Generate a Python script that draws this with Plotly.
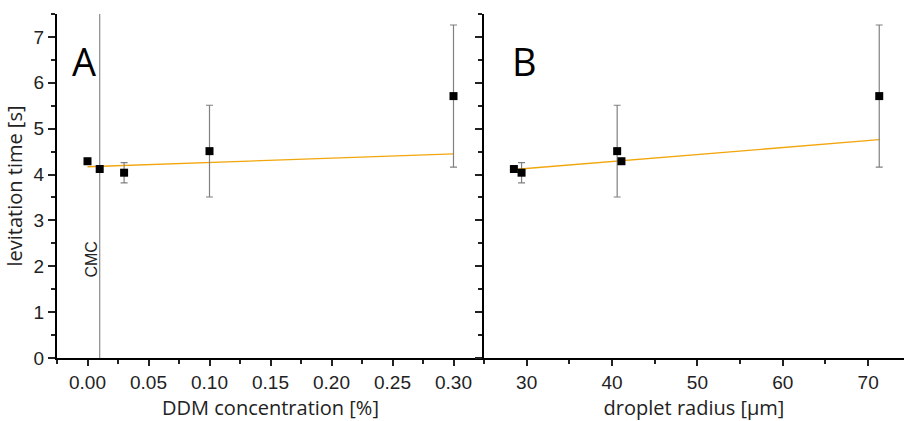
import plotly.graph_objects as go

# ---- data ----
conc = [0.00, 0.01, 0.03, 0.10, 0.30]          # DDM concentration [%]
time_a = [4.29, 4.12, 4.04, 4.51, 5.71]        # levitation time [s]
err_a = [0.03, 0.0, 0.22, 1.00, 1.55]
fit_a_x = [0.0, 0.30]
fit_a_y = [4.17, 4.45]
cmc = 0.01

radius = [41.1, 28.5, 29.4, 40.6, 71.3]        # droplet radius [um]
time_b = [4.29, 4.12, 4.04, 4.51, 5.71]
err_b = [0.03, 0.0, 0.22, 1.00, 1.55]
fit_b_x = [28.5, 71.3]
fit_b_y = [4.11, 4.76]

ORANGE = "#F2A60C"
ERR = "#808080"


def tickfont():
    return dict(family="Liberation Sans", size=19, color="#222")


def titlefont():
    return dict(family="Open Sans", size=20, color="#222")


fig = go.Figure()

# CMC marker line (drawn below the points)
fig.add_shape(type="line", xref="x", yref="y domain", x0=cmc, x1=cmc, y0=0, y1=1,
              line=dict(color="#8a8a8a", width=1.2), layer="below")

fig.add_trace(go.Scatter(x=fit_a_x, y=fit_a_y, mode="lines",
                         line=dict(color=ORANGE, width=1.3), xaxis="x", yaxis="y", showlegend=False))
fig.add_trace(go.Scatter(x=conc, y=time_a, mode="markers",
                         marker=dict(symbol="square", size=8, color="black"),
                         error_y=dict(type="data", array=err_a, color=ERR, thickness=1.2, width=3.5),
                         xaxis="x", yaxis="y", showlegend=False))
fig.add_trace(go.Scatter(x=fit_b_x, y=fit_b_y, mode="lines",
                         line=dict(color=ORANGE, width=1.3), xaxis="x2", yaxis="y2", showlegend=False))
fig.add_trace(go.Scatter(x=radius, y=time_b, mode="markers",
                         marker=dict(symbol="square", size=8, color="black"),
                         error_y=dict(type="data", array=err_b, color=ERR, thickness=1.2, width=3.5),
                         xaxis="x2", yaxis="y2", showlegend=False))

split = 427 / 847
xr_a = [-0.025, 0.325]
xr_b = [25, 74.2]
yr = [0, 7.5]


def common_x():
    return dict(showgrid=False, zeroline=False, showline=True, linecolor="black", linewidth=2,
                ticks="outside", ticklen=6, tickwidth=1.5, tickcolor="#222", tickfont=tickfont())


def common_y():
    return dict(showgrid=False, zeroline=False, showline=True, linecolor="black", linewidth=2,
                ticks="outside", ticklen=7, tickwidth=1.5, tickcolor="#222", tickfont=tickfont(),
                range=yr, dtick=1, tick0=0,
                minor=dict(dtick=0.5, ticks="outside", ticklen=4, tickwidth=1.5, tickcolor="#222"))


fig.update_layout(
    width=904, height=421,
    margin=dict(l=57, r=0, t=14, b=63),
    plot_bgcolor="white", paper_bgcolor="white",
    font=dict(family="Liberation Sans", size=19, color="#222"),
    xaxis=dict(**common_x(), domain=[0, split], range=xr_a, dtick=0.05, tick0=0, tickformat=".2f",
               minor=dict(dtick=0.025, tick0=0, ticks="outside", ticklen=4, tickwidth=1.5, tickcolor="#222"),
               anchor="y",
               title=dict(text="DDM concentration [%]", font=titlefont(), standoff=10)),
    xaxis3=dict(overlaying="x", side="top", anchor="y", range=xr_a, dtick=0.05, tick0=0,
                showgrid=False, zeroline=False, showline=True, linecolor="black", linewidth=2,
                ticks="inside", ticklen=5, tickwidth=1.5, tickcolor="#222", showticklabels=False,
                minor=dict(dtick=0.025, tick0=0, ticks="inside", ticklen=4, tickwidth=1.5, tickcolor="#222")),
    xaxis2=dict(**common_x(), domain=[split, 1], range=xr_b, dtick=10, tick0=0,
                minor=dict(dtick=5, tick0=0, ticks="outside", ticklen=4, tickwidth=1.5, tickcolor="#222"),
                anchor="y2",
                title=dict(text="droplet radius [µm]", font=titlefont(), standoff=10)),
    xaxis4=dict(overlaying="x2", side="top", anchor="y2", range=xr_b, dtick=10, tick0=0,
                showgrid=False, zeroline=False, showline=True, linecolor="black", linewidth=2,
                ticks="inside", ticklen=5, tickwidth=1.5, tickcolor="#222", showticklabels=False,
                minor=dict(dtick=5, tick0=0, ticks="inside", ticklen=4, tickwidth=1.5, tickcolor="#222")),
    yaxis=dict(**common_y(), anchor="x", domain=[0, 1],
               title=dict(text="levitation time [s]", font=titlefont(), standoff=6)),
    yaxis2=dict(**common_y(), anchor="x2", domain=[0, 1], showticklabels=False),
)

fig.add_annotation(x=cmc, y=2.15, xref="x", yref="y", text="CMC", showarrow=False,
                   textangle=-90, xanchor="right", yanchor="middle", xshift=2,
                   font=dict(family="Liberation Sans", size=16, color="#222"))

# panel letters
fig.add_annotation(x=0.03, y=0.862, xref="x domain", yref="y domain", text="A", showarrow=False,
                   xanchor="left", yanchor="middle", font=dict(family="Open Sans", size=38, color="black"))
fig.add_annotation(x=0.063, y=0.862, xref="x2 domain", yref="y2 domain", text="B", showarrow=False,
                   xanchor="left", yanchor="middle", font=dict(family="Open Sans", size=38, color="black"))

fig.write_html("out.html")
